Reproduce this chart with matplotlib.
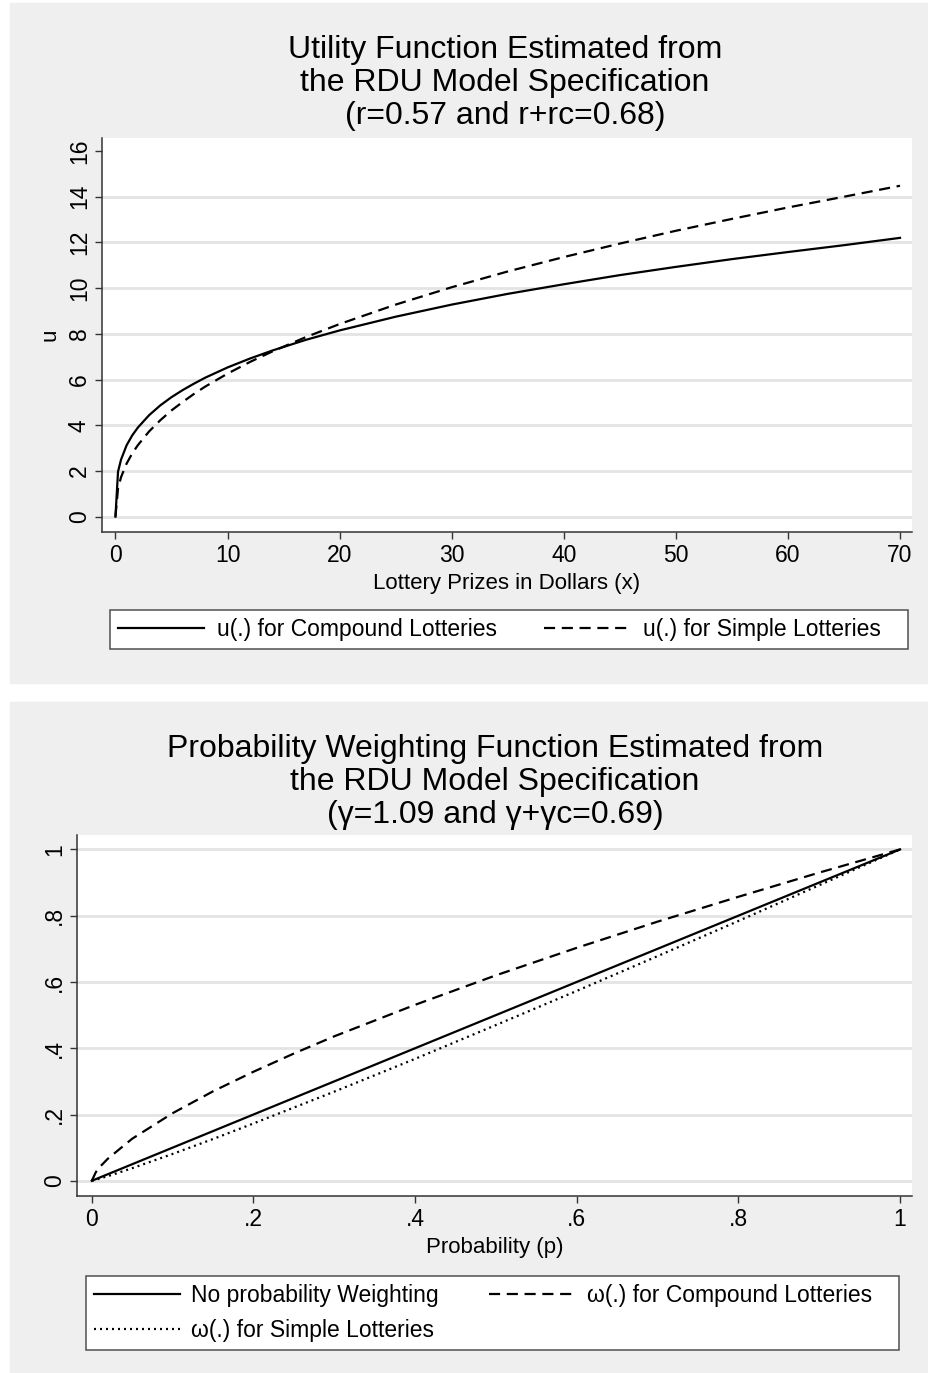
import matplotlib
matplotlib.use('Agg')
from matplotlib import pyplot as plt
from matplotlib.patches import Rectangle

plt.rcParams['font.family'] = ['Liberation Sans', 'DejaVu Sans']

# ---- data ----
# top panel: utility curves
prize = [0, 0.23, 0.5, 1, 1.5, 2, 3, 4, 5, 6, 7, 8, 10, 12, 14, 17, 20,
         25, 30, 35, 40, 45, 50, 55, 60, 65, 70]
u_compound = [0, 1.97, 2.50, 3.13, 3.56, 3.90, 4.44, 4.87, 5.23, 5.54, 5.82,
              6.08, 6.53, 6.92, 7.27, 7.74, 8.15, 8.75, 9.28, 9.75, 10.17,
              10.57, 10.93, 11.27, 11.58, 11.88, 12.20]
u_simple = [0, 1.24, 1.73, 2.33, 2.77, 3.13, 3.73, 4.22, 4.65, 5.02, 5.37,
            5.69, 6.26, 6.77, 7.23, 7.86, 8.43, 9.28, 10.04, 10.73, 11.36,
            11.95, 12.51, 13.03, 13.53, 14.00, 14.48]
u_ticks = [0, 2, 4, 6, 8, 10, 12, 14, 16]
prize_ticks = [0, 10, 20, 30, 40, 50, 60, 70]

# bottom panel: probability weighting
prob = [0, 0.005, 0.01, 0.02, 0.05, 0.1, 0.15, 0.2, 0.25, 0.3, 0.4, 0.5,
        0.6, 0.7, 0.8, 0.9, 1]
w_none = [0, 0.005, 0.01, 0.02, 0.05, 0.1, 0.15, 0.2, 0.25, 0.3, 0.4, 0.5,
          0.6, 0.7, 0.8, 0.9, 1]
w_compound = [0, 0.026, 0.042, 0.067, 0.127, 0.204, 0.270, 0.329, 0.384,
              0.436, 0.531, 0.620, 0.703, 0.782, 0.857, 0.930, 1]
w_simple = [0, 0.003, 0.007, 0.014, 0.038, 0.081, 0.126, 0.173, 0.221,
            0.269, 0.368, 0.470, 0.573, 0.678, 0.784, 0.892, 1]
w_ticks = [0, 0.2, 0.4, 0.6, 0.8, 1]
w_ticklabels = ['0', '.2', '.4', '.6', '.8', '1']

W, H = 929, 1373
fig = plt.figure(figsize=(W/100, H/100), dpi=100, facecolor='white')

def box(l, t, r, b):
    # pixel box -> figure fraction rect
    return [l/W, 1 - b/H, (r - l)/W, (b - t)/H]

def fpt(x, y):
    return x/W, 1 - y/H

# grey panel backgrounds (behind the axes)
panel = '#efefef'
fig.patches.append(Rectangle((10/W, 1 - 683/H), 919/W, 680/H,
                             transform=fig.transFigure, color=panel, zorder=-5))
fig.patches.append(Rectangle((10/W, 0), 919/W, (H - 702)/H,
                             transform=fig.transFigure, color=panel, zorder=-5))

dark = '#333333'
grid = '#e4e4e4'

def style(ax):
    ax.set_facecolor('white')
    for s in ['top', 'right']:
        ax.spines[s].set_visible(False)
    for s in ['left', 'bottom']:
        ax.spines[s].set_color(dark)
        ax.spines[s].set_linewidth(1.1)
    ax.tick_params(axis='both', colors=dark, length=5, width=1, labelsize=16.5,
                   labelcolor='black')
    ax.tick_params(axis='x', pad=4)
    ax.tick_params(axis='y', pad=3, labelrotation=90)
    for lab in ax.get_yticklabels():
        lab.set_va('center')
    ax.grid(axis='y', color=grid, lw=2)
    ax.set_axisbelow(True)

lw = 1.6
dash = (5.0, 3.0)
dot = (0.9, 1.8)

# ---- top panel ----
ax1 = fig.add_axes(box(102, 138, 912, 532))
l1, = ax1.plot(prize, u_compound, color='black', lw=lw)
l2, = ax1.plot(prize, u_simple, color='black', lw=lw, ls=(0, dash))
ax1.set_xlim(-1.2, 71.07)
ax1.set_ylim(-0.67, 16.57)
ax1.set_xticks(prize_ticks)
ax1.set_yticks(u_ticks)
style(ax1)
ax1.get_ygridlines()[-1].set_visible(False)
ax1.set_xlabel('Lottery Prizes in Dollars (x)', fontsize=16, va='center')
ax1.xaxis.set_label_coords(0.5, (532 - 583)/394)
ax1.set_ylabel('u', fontsize=16, va='center')
ax1.yaxis.set_label_coords((50 - 102)/810, 0.5)

for txt, y in [('Utility Function Estimated from', 50),
               ('the RDU Model Specification', 83),
               ('(r=0.57 and r+rc=0.68)', 116)]:
    fig.text(*fpt(505, y), txt, fontsize=23, ha='center', va='center')

fig.legend([l1, l2], ['u(.) for Compound Lotteries',
                      'u(.) for Simple Lotteries   '],
           loc='center left', bbox_to_anchor=fpt(110, 629.5), ncol=2,
           fontsize=16.5, frameon=True, fancybox=False, framealpha=1,
           edgecolor='#505050', facecolor='white', handlelength=3.75,
           handletextpad=0.57, columnspacing=2.05, borderpad=0.35,
           borderaxespad=0).get_frame().set_linewidth(1.1)

# ---- bottom panel ----
ax2 = fig.add_axes(box(77, 835, 912, 1196))
m1, = ax2.plot(prob, w_none, color='black', lw=lw)
m2, = ax2.plot(prob, w_compound, color='black', lw=lw, ls=(0, dash))
m3, = ax2.plot(prob, w_simple, color='black', lw=lw, ls=(0, dot))
ax2.set_xlim(-0.0183, 1.0148)
ax2.set_ylim(-0.0459, 1.0435)
ax2.set_xticks(w_ticks)
ax2.set_xticklabels(w_ticklabels)
ax2.set_yticks(w_ticks)
ax2.set_yticklabels(w_ticklabels)
style(ax2)
ax2.set_xlabel('Probability (p)', fontsize=16, va='center')
ax2.xaxis.set_label_coords(0.5, (1196 - 1247.5)/361)

for txt, y in [('Probability Weighting Function Estimated from', 749),
               ('the RDU Model Specification', 782),
               ('(γ=1.09 and γ+γc=0.69)', 815)]:
    fig.text(*fpt(495, y), txt, fontsize=23, ha='center', va='center')

# ncol=2 fills column-wise, so order gives rows: [none, compound] / [simple]
fig.legend([m1, m3, m2],
           ['No probability Weighting', 'ω(.) for Simple Lotteries',
            'ω(.) for Compound Lotteries   '],
           loc='center left', bbox_to_anchor=fpt(86, 1313), ncol=2,
           fontsize=16.5, frameon=True, fancybox=False, framealpha=1,
           edgecolor='#505050', facecolor='white', handlelength=3.75,
           handletextpad=0.5, columnspacing=2.2, borderpad=0.35,
           labelspacing=0.5, borderaxespad=0).get_frame().set_linewidth(1.1)

fig.savefig('out.png', dpi=100, facecolor=fig.get_facecolor())
